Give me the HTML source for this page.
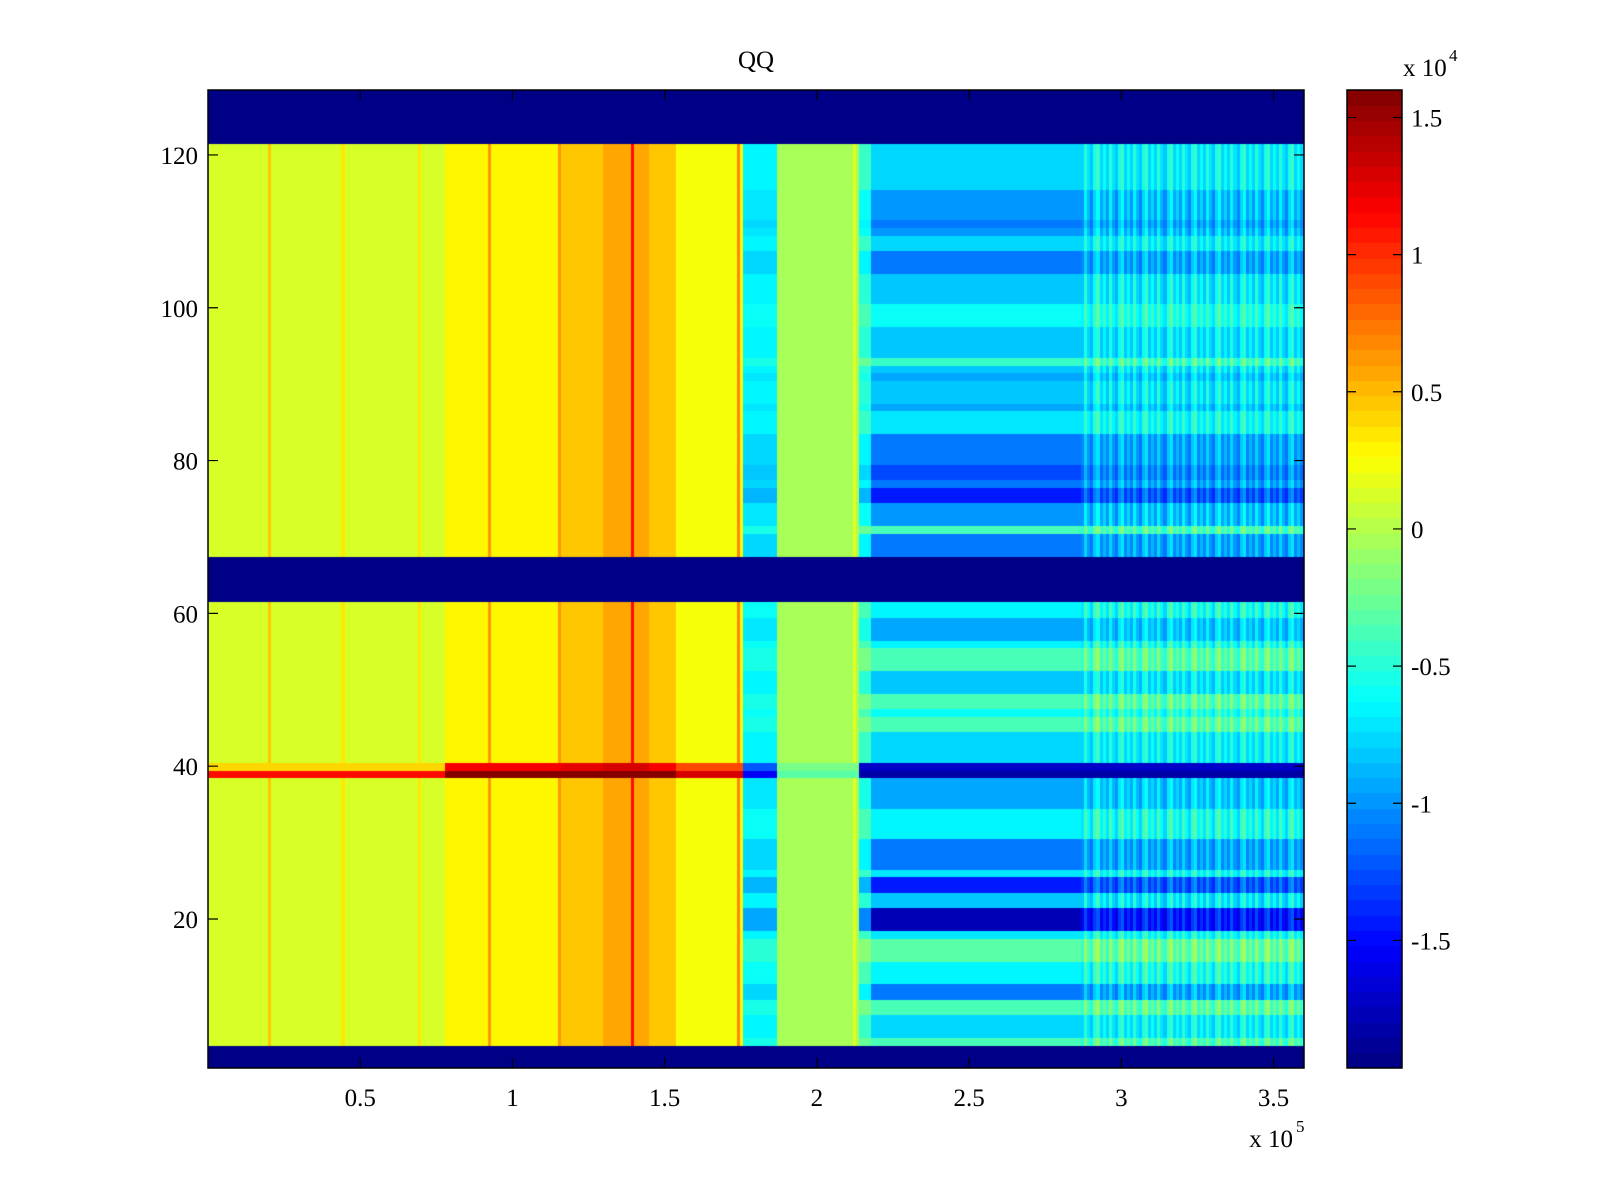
<!DOCTYPE html>
<html><head><meta charset="utf-8"><title>QQ</title>
<style>
html,body{margin:0;padding:0;background:#fff;}
#wrap{position:relative;width:1600px;height:1200px;}
canvas,svg{position:absolute;left:0;top:0;}
text{font-family:"Liberation Serif",serif;fill:#000;}
</style></head>
<body>
<div id="wrap">
<canvas id="cv" width="1600" height="1200"></canvas>
<svg id="sv" width="1600" height="1200"></svg>
</div>
<script>
// ---- data (x in 1e5 units, values in 1e4 units) ----
const xMin = 0, xMax = 3.6, yMin = 0.5, yMax = 128.5;
const cMin = -1.965, cMax = 1.6;
const xTicks = [0.5, 1, 1.5, 2, 2.5, 3, 3.5];
const xTickLabels = ["0.5", "1", "1.5", "2", "2.5", "3", "3.5"];
const yTicks = [20, 40, 60, 80, 100, 120];
const yTickLabels = ["20", "40", "60", "80", "100", "120"];
const cTicks = [-1.5, -1, -0.5, 0, 0.5, 1, 1.5];
const cTickLabels = ["-1.5", "-1", "-0.5", "0", "0.5", "1", "1.5"];
const emptyRows = [1,2,3,62,63,64,65,66,67,122,123,124,125,126,127,128];
// column segments: start (1e5), base value
const segStart = [0, 0.785, 1.157, 1.30, 1.45, 1.545, 1.762, 1.875, 2.14, 2.18, 2.875];
const segValue = [0.14, 0.3, 0.48, 0.58, 0.45, 0.22, -0.65, -0.05, -0.45, -0.75, -0.65];
// thin vertical lines
const linePos = [0.205, 0.443, 0.697, 0.927, 1.157, 1.394, 1.742, 2.121];
const lineAmp = [0.3, 0.22, 0.22, 0.3, 0.35, 0.55, 0.45, 0.25];
// stripe pattern in right region
const stripe = [0.15, -0.08, -0.2, 0.08, 0.2, -0.12, 0.04, -0.15];
// right-region value per row (row 1..128, index 0 = row 1)
const rowRight = [
 null,null,null,-0.4,-0.75,-0.75,-0.75,-0.35,-0.35,-1.1,
 -1.1,-0.65,-0.65,-0.65,-0.3,-0.3,-0.3,-0.7,-1.75,-1.75,
 -1.75,-0.8,-0.8,-1.45,-1.45,-0.7,-1.1,-1.1,-1.1,-1.1,
 -0.65,-0.65,-0.65,-0.65,-0.95,-0.95,-0.95,-0.95,-1.85,-1.7,
 -0.75,-0.75,-0.75,-0.75,-0.35,-0.35,-0.6,-0.35,-0.35,-0.85,
 -0.85,-0.85,-0.35,-0.35,-0.35,-0.65,-0.95,-0.95,-0.95,-0.65,
 -0.65,null,null,null,null,null,null,-1.1,-1.1,-1.1,
 -0.4,-1.0,-1.0,-1.0,-1.45,-1.45,-1.1,-1.25,-1.25,-1.1,
 -1.1,-1.1,-1.1,-0.7,-0.7,-0.7,-0.95,-0.8,-0.8,-0.8,
 -0.95,-0.8,-0.45,-0.85,-0.85,-0.85,-0.85,-0.6,-0.6,-0.6,
 -0.8,-0.8,-0.8,-0.8,-1.1,-1.1,-1.1,-0.75,-0.75,-1.0,
 -1.1,-1.0,-1.0,-1.0,-1.0,-0.75,-0.75,-0.75,-0.75,-0.75,
 -0.75,null,null,null,null,null,null,null
];
// special rows 39/40 per segment
const row39 = [1.15, 1.55, 1.55, 1.55, 1.55, 1.3, -1.55, -0.3, -1.85, -1.85, -1.85];
const row40 = [0.4, 1.2, 1.25, 1.3, 1.2, 0.9, -1.2, -0.2, -1.7, -1.7, -1.7];

// ---- geometry ----
const AX = {l:208, r:1304, t:90, b:1068};
const CB = {l:1347, r:1402, t:90, b:1068};
const sx = v => AX.l + (v - xMin) / (xMax - xMin) * (AX.r - AX.l);
const sy = v => AX.t + (yMax - v) / (yMax - yMin) * (AX.b - AX.t);
const cy = v => CB.b - (v - cMin) / (cMax - cMin) * (CB.b - CB.t);

function jet(i){ // i in 0..63
  const x = (i + 0.5) / 64;
  const c = v => Math.max(0, Math.min(1, v));
  return [c(1.5 - Math.abs(4*x - 3)), c(1.5 - Math.abs(4*x - 2)), c(1.5 - Math.abs(4*x - 1))];
}
function colorOf(v){
  let i = 0;
  if (v !== null) { i = Math.floor((v - cMin) / (cMax - cMin) * 64); i = Math.max(0, Math.min(63, i)); }
  const c = jet(i);
  return 'rgb(' + Math.round(c[0]*255) + ',' + Math.round(c[1]*255) + ',' + Math.round(c[2]*255) + ')';
}
function segIndex(x){ let s = 0; for (let k = 0; k < segStart.length; k++) if (x >= segStart[k]) s = k; return s; }
function valueAt(row, x, ci){
  if (emptyRows.indexOf(row) >= 0) return null;
  const s = segIndex(x);
  if (row === 39) return row39[s];
  if (row === 40) return row40[s];
  const rr = rowRight[row - 1];
  const d = rr - (-0.75);
  let v = segValue[s];
  if (s === 9) v = rr;
  else if (s === 10) v = -0.62 + d * 0.8 + stripe[ci % stripe.length];
  else if (s === 8) v = -0.45 + d * 0.6;
  else if (s === 6) v = -0.65 + d * 0.3;
  for (let k = 0; k < linePos.length; k++) if (Math.abs(x - linePos[k]) < 0.006) v += lineAmp[k];
  return v;
}

const ctx = document.getElementById('cv').getContext('2d');
const dx = 0.01;
const nCols = Math.round((xMax - xMin) / dx);
for (let row = 1; row <= 128; row++) {
  const y0 = sy(row + 0.5), y1 = sy(row - 0.5);
  for (let ci = 0; ci < nCols; ci++) {
    const xa = xMin + ci * dx, xc = xa + dx / 2;
    ctx.fillStyle = colorOf(valueAt(row, xc, ci));
    const px0 = Math.floor(sx(xa)), px1 = Math.ceil(sx(xa + dx));
    ctx.fillRect(px0, Math.floor(y0), px1 - px0, Math.ceil(y1) - Math.floor(y0));
  }
}
// colorbar
for (let i = 0; i < 64; i++) {
  const v0 = cMin + i * (cMax - cMin) / 64, v1 = cMin + (i + 1) * (cMax - cMin) / 64;
  const c = jet(i);
  ctx.fillStyle = 'rgb(' + Math.round(c[0]*255) + ',' + Math.round(c[1]*255) + ',' + Math.round(c[2]*255) + ')';
  ctx.fillRect(CB.l, Math.floor(cy(v1)), CB.r - CB.l, Math.ceil(cy(v0)) - Math.floor(cy(v1)));
}

// ---- SVG overlay ----
const NS = 'http://www.w3.org/2000/svg';
const sv = document.getElementById('sv');
function mk(tag, attrs, txt){
  const e = document.createElementNS(NS, tag);
  for (const k in attrs) e.setAttribute(k, attrs[k]);
  if (txt !== undefined) e.textContent = txt;
  sv.appendChild(e); return e;
}
let e;
e = mk('rect', {x:AX.l, y:AX.t, width:AX.r-AX.l, height:AX.b-AX.t, fill:'none', stroke:'#000', 'stroke-width':1.5});


e = mk('rect', {x:CB.l, y:CB.t, width:CB.r-CB.l, height:CB.b-CB.t, fill:'none', stroke:'#000', 'stroke-width':1.5});


const TL = 10;
xTicks.forEach((t, i) => {
  const x = sx(t);
  e = mk('path', {d:'M'+x+' '+AX.b+'v-'+TL+'M'+x+' '+AX.t+'v'+TL, stroke:'#000', 'stroke-width':1.2});
  
  
  e = mk('text', {x:x, y:AX.b+38, 'font-size':25, 'text-anchor':'middle'}, xTickLabels[i]);
  
  
});
yTicks.forEach((t, i) => {
  const y = sy(t);
  e = mk('path', {d:'M'+AX.l+' '+y+'h'+TL+'M'+AX.r+' '+y+'h-'+TL, stroke:'#000', 'stroke-width':1.2});
  
  
  e = mk('text', {x:AX.l-10, y:y+9, 'font-size':25, 'text-anchor':'end'}, yTickLabels[i]);
  
  
});
cTicks.forEach((t, i) => {
  const y = cy(t);
  e = mk('path', {d:'M'+CB.l+' '+y+'h9M'+CB.r+' '+y+'h-9', stroke:'#000', 'stroke-width':1.2});
  
  
  e = mk('text', {x:CB.r+9, y:y+9, 'font-size':25, 'text-anchor':'start'}, cTickLabels[i]);
  
  
});
e = mk('text', {x:(AX.l+AX.r)/2, y:68, 'font-size':25, 'text-anchor':'middle'}, 'QQ');


e = mk('text', {x:1293, y:1147, 'font-size':25, 'text-anchor':'end'}, 'x 10');


e = mk('text', {x:1296, y:1132, 'font-size':17}, '5');


e = mk('text', {x:1403, y:76, 'font-size':25}, 'x 10');


e = mk('text', {x:1449, y:61, 'font-size':17}, '4');


</script>
</body></html>
